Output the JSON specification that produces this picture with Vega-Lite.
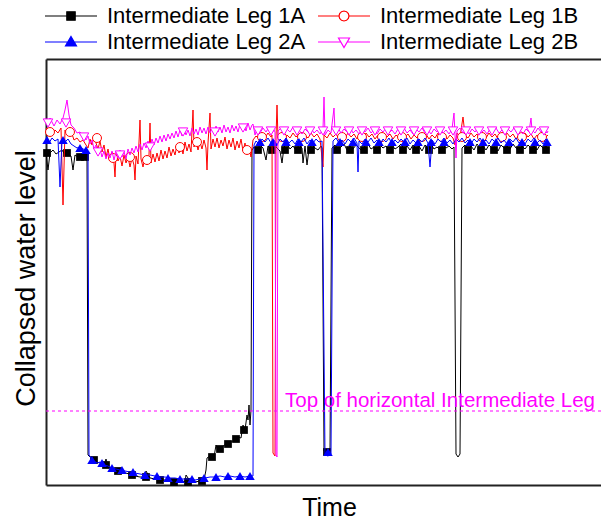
{
"$schema": "https://vega.github.io/schema/vega-lite/v6.json",
"width": 555,
"height": 426,
"autosize": "none",
"padding": {"left": 46, "top": 59, "right": 0, "bottom": 36},
"background": "white",
"config": {
  "view": {"stroke": null},
  "font": "Liberation Sans",
  "axis": {"grid": false, "ticks": false, "labels": false, "domainColor": "#222", "domainWidth": 2, "titleFont": "Liberation Sans", "titleFontWeight": "normal", "titleColor": "#000"}
},
"datasets": {
"lines": [
{"s":"1A","t":0,"v":332},{"s":"1A","t":2,"v":315},{"s":"1A","t":4,"v":332},{"s":"1A","t":7,"v":335},{"s":"1A","t":10,"v":331},{"s":"1A","t":13,"v":333},{"s":"1A","t":16,"v":335},{"s":"1A","t":19,"v":330},{"s":"1A","t":22,"v":332},{"s":"1A","t":25,"v":329},{"s":"1A","t":27,"v":315},{"s":"1A","t":29,"v":330},{"s":"1A","t":32,"v":328},{"s":"1A","t":35,"v":329},{"s":"1A","t":38,"v":327},{"s":"1A","t":40,"v":326},{"s":"1A","t":41,"v":324},
{"s":"1A","t":42,"v":30},{"s":"1A","t":44,"v":28},{"s":"1A","t":47,"v":25},{"s":"1A","t":50,"v":23},{"s":"1A","t":54,"v":22},{"s":"1A","t":58,"v":19},{"s":"1A","t":60,"v":26},{"s":"1A","t":62,"v":18},{"s":"1A","t":66,"v":17},{"s":"1A","t":70,"v":15},{"s":"1A","t":74,"v":13},{"s":"1A","t":79,"v":12},{"s":"1A","t":84,"v":11},{"s":"1A","t":89,"v":9},{"s":"1A","t":94,"v":8},{"s":"1A","t":99,"v":8},{"s":"1A","t":100,"v":14},{"s":"1A","t":104,"v":7},{"s":"1A","t":109,"v":6},{"s":"1A","t":114,"v":5},{"s":"1A","t":119,"v":5},{"s":"1A","t":124,"v":4},{"s":"1A","t":129,"v":3},{"s":"1A","t":134,"v":4},{"s":"1A","t":139,"v":3},{"s":"1A","t":140,"v":10},{"s":"1A","t":144,"v":4},{"s":"1A","t":149,"v":3},{"s":"1A","t":154,"v":4},{"s":"1A","t":158,"v":5},{"s":"1A","t":160,"v":15},{"s":"1A","t":161,"v":27},{"s":"1A","t":164,"v":29},{"s":"1A","t":168,"v":28},{"s":"1A","t":170,"v":40},{"s":"1A","t":172,"v":35},{"s":"1A","t":176,"v":38},{"s":"1A","t":180,"v":41},{"s":"1A","t":184,"v":42},{"s":"1A","t":188,"v":45},{"s":"1A","t":192,"v":48},{"s":"1A","t":195,"v":47},{"s":"1A","t":197,"v":60},{"s":"1A","t":199,"v":55},{"s":"1A","t":201,"v":70},{"s":"1A","t":202,"v":65},{"s":"1A","t":203,"v":80},{"s":"1A","t":204,"v":60},{"s":"1A","t":205,"v":75},
{"s":"1A","t":206,"v":335},{"s":"1A","t":208,"v":338},{"s":"1A","t":211,"v":335},{"s":"1A","t":214,"v":340},{"s":"1A","t":217,"v":337},{"s":"1A","t":220,"v":325},{"s":"1A","t":222,"v":339},{"s":"1A","t":225,"v":336},{"s":"1A","t":228,"v":341},{"s":"1A","t":231,"v":337},{"s":"1A","t":234,"v":334},{"s":"1A","t":236,"v":322},{"s":"1A","t":238,"v":338},{"s":"1A","t":241,"v":341},{"s":"1A","t":244,"v":336},{"s":"1A","t":247,"v":339},{"s":"1A","t":250,"v":335},{"s":"1A","t":253,"v":340},{"s":"1A","t":256,"v":337},{"s":"1A","t":257,"v":322},{"s":"1A","t":259,"v":339},{"s":"1A","t":261,"v":320},{"s":"1A","t":263,"v":336},{"s":"1A","t":266,"v":340},{"s":"1A","t":269,"v":337},{"s":"1A","t":272,"v":335},{"s":"1A","t":275,"v":339},{"s":"1A","t":276,"v":337},
{"s":"1A","t":278,"v":34},{"s":"1A","t":281,"v":33},{"s":"1A","t":284,"v":34},{"s":"1A","t":286,"v":337},{"s":"1A","t":289,"v":340},{"s":"1A","t":292,"v":336},{"s":"1A","t":295,"v":338},{"s":"1A","t":298,"v":341},{"s":"1A","t":301,"v":335},{"s":"1A","t":304,"v":339},{"s":"1A","t":307,"v":336},{"s":"1A","t":310,"v":340},{"s":"1A","t":313,"v":337},{"s":"1A","t":316,"v":334},{"s":"1A","t":319,"v":339},{"s":"1A","t":322,"v":341},{"s":"1A","t":325,"v":336},{"s":"1A","t":328,"v":338},{"s":"1A","t":331,"v":335},{"s":"1A","t":334,"v":340},{"s":"1A","t":337,"v":337},{"s":"1A","t":340,"v":339},{"s":"1A","t":343,"v":335},{"s":"1A","t":346,"v":340},{"s":"1A","t":349,"v":336},{"s":"1A","t":352,"v":338},{"s":"1A","t":355,"v":341},{"s":"1A","t":358,"v":336},{"s":"1A","t":361,"v":339},{"s":"1A","t":364,"v":335},{"s":"1A","t":367,"v":340},{"s":"1A","t":370,"v":337},{"s":"1A","t":373,"v":339},{"s":"1A","t":376,"v":334},{"s":"1A","t":379,"v":340},{"s":"1A","t":382,"v":337},{"s":"1A","t":385,"v":341},{"s":"1A","t":388,"v":336},{"s":"1A","t":391,"v":338},{"s":"1A","t":394,"v":335},{"s":"1A","t":397,"v":340},{"s":"1A","t":400,"v":337},{"s":"1A","t":403,"v":339},{"s":"1A","t":406,"v":336},{"s":"1A","t":408,"v":338},
{"s":"1A","t":410,"v":31},{"s":"1A","t":412,"v":28},{"s":"1A","t":414,"v":31},{"s":"1A","t":416,"v":337},{"s":"1A","t":419,"v":340},{"s":"1A","t":422,"v":336},{"s":"1A","t":425,"v":339},{"s":"1A","t":428,"v":335},{"s":"1A","t":431,"v":341},{"s":"1A","t":434,"v":337},{"s":"1A","t":437,"v":339},{"s":"1A","t":440,"v":335},{"s":"1A","t":443,"v":340},{"s":"1A","t":446,"v":337},{"s":"1A","t":449,"v":338},{"s":"1A","t":452,"v":334},{"s":"1A","t":455,"v":340},{"s":"1A","t":458,"v":337},{"s":"1A","t":461,"v":339},{"s":"1A","t":464,"v":336},{"s":"1A","t":467,"v":341},{"s":"1A","t":470,"v":337},{"s":"1A","t":473,"v":335},{"s":"1A","t":476,"v":339},{"s":"1A","t":479,"v":336},{"s":"1A","t":482,"v":340},{"s":"1A","t":485,"v":337},{"s":"1A","t":488,"v":339},{"s":"1A","t":491,"v":335},{"s":"1A","t":494,"v":340},{"s":"1A","t":497,"v":337},{"s":"1A","t":500,"v":339},{"s":"1A","t":502,"v":336},

{"s":"1B","t":0,"v":357},{"s":"1B","t":3,"v":353},{"s":"1B","t":6,"v":350},{"s":"1B","t":9,"v":355},{"s":"1B","t":12,"v":352},{"s":"1B","t":15,"v":357},{"s":"1B","t":17,"v":280},{"s":"1B","t":19,"v":355},{"s":"1B","t":22,"v":351},{"s":"1B","t":25,"v":354},{"s":"1B","t":28,"v":345},{"s":"1B","t":31,"v":347},{"s":"1B","t":34,"v":343},{"s":"1B","t":37,"v":345},{"s":"1B","t":40,"v":340},
{"s":"1B","t":42,"v":337},{"s":"1B","t":44,"v":346},{"s":"1B","t":46,"v":340},{"s":"1B","t":48,"v":349},{"s":"1B","t":50,"v":342},{"s":"1B","t":52,"v":336},{"s":"1B","t":54,"v":344},{"s":"1B","t":56,"v":333},{"s":"1B","t":58,"v":340},{"s":"1B","t":60,"v":328},{"s":"1B","t":62,"v":336},{"s":"1B","t":64,"v":325},{"s":"1B","t":66,"v":333},{"s":"1B","t":68,"v":322},{"s":"1B","t":69,"v":308},{"s":"1B","t":70,"v":331},{"s":"1B","t":72,"v":324},{"s":"1B","t":74,"v":329},{"s":"1B","t":76,"v":319},{"s":"1B","t":78,"v":330},{"s":"1B","t":80,"v":322},{"s":"1B","t":82,"v":328},{"s":"1B","t":84,"v":318},{"s":"1B","t":86,"v":327},{"s":"1B","t":88,"v":320},{"s":"1B","t":89,"v":305},{"s":"1B","t":90,"v":329},{"s":"1B","t":92,"v":321},{"s":"1B","t":94,"v":365},{"s":"1B","t":95,"v":326},{"s":"1B","t":97,"v":318},{"s":"1B","t":99,"v":328},{"s":"1B","t":101,"v":320},{"s":"1B","t":103,"v":330},{"s":"1B","t":104,"v":362},{"s":"1B","t":105,"v":322},{"s":"1B","t":107,"v":331},{"s":"1B","t":109,"v":323},{"s":"1B","t":111,"v":332},{"s":"1B","t":113,"v":324},{"s":"1B","t":115,"v":335},{"s":"1B","t":117,"v":326},{"s":"1B","t":119,"v":334},{"s":"1B","t":121,"v":327},{"s":"1B","t":123,"v":338},{"s":"1B","t":125,"v":329},{"s":"1B","t":127,"v":336},{"s":"1B","t":129,"v":330},{"s":"1B","t":131,"v":340},{"s":"1B","t":133,"v":332},{"s":"1B","t":135,"v":339},{"s":"1B","t":137,"v":331},{"s":"1B","t":139,"v":343},{"s":"1B","t":141,"v":334},{"s":"1B","t":143,"v":341},{"s":"1B","t":145,"v":333},{"s":"1B","t":147,"v":375},{"s":"1B","t":148,"v":338},{"s":"1B","t":150,"v":344},{"s":"1B","t":152,"v":335},{"s":"1B","t":154,"v":343},{"s":"1B","t":156,"v":336},{"s":"1B","t":158,"v":345},{"s":"1B","t":160,"v":337},{"s":"1B","t":161,"v":315},{"s":"1B","t":162,"v":342},{"s":"1B","t":164,"v":372},{"s":"1B","t":165,"v":336},{"s":"1B","t":167,"v":346},{"s":"1B","t":169,"v":338},{"s":"1B","t":171,"v":347},{"s":"1B","t":173,"v":337},{"s":"1B","t":175,"v":345},{"s":"1B","t":177,"v":339},{"s":"1B","t":179,"v":348},{"s":"1B","t":181,"v":336},{"s":"1B","t":183,"v":345},{"s":"1B","t":185,"v":338},{"s":"1B","t":187,"v":347},{"s":"1B","t":189,"v":335},{"s":"1B","t":191,"v":344},{"s":"1B","t":193,"v":337},{"s":"1B","t":195,"v":346},{"s":"1B","t":197,"v":334},{"s":"1B","t":199,"v":342},{"s":"1B","t":201,"v":332},{"s":"1B","t":203,"v":338},{"s":"1B","t":205,"v":328},{"s":"1B","t":207,"v":345},
{"s":"1B","t":210,"v":349},{"s":"1B","t":213,"v":346},{"s":"1B","t":216,"v":351},{"s":"1B","t":219,"v":347},{"s":"1B","t":222,"v":352},{"s":"1B","t":225,"v":348},{"s":"1B","t":226,"v":350},{"s":"1B","t":227,"v":32},{"s":"1B","t":229,"v":29},{"s":"1B","t":230,"v":348},{"s":"1B","t":231,"v":380},{"s":"1B","t":232,"v":347},{"s":"1B","t":235,"v":351},{"s":"1B","t":238,"v":346},{"s":"1B","t":241,"v":350},{"s":"1B","t":244,"v":347},{"s":"1B","t":247,"v":352},{"s":"1B","t":250,"v":348},{"s":"1B","t":253,"v":351},{"s":"1B","t":256,"v":346},{"s":"1B","t":259,"v":350},{"s":"1B","t":262,"v":347},{"s":"1B","t":265,"v":352},{"s":"1B","t":268,"v":348},{"s":"1B","t":271,"v":351},{"s":"1B","t":274,"v":346},{"s":"1B","t":277,"v":318},{"s":"1B","t":278,"v":350},{"s":"1B","t":281,"v":347},{"s":"1B","t":284,"v":352},{"s":"1B","t":287,"v":348},{"s":"1B","t":290,"v":351},{"s":"1B","t":293,"v":346},{"s":"1B","t":296,"v":350},{"s":"1B","t":299,"v":347},{"s":"1B","t":302,"v":352},{"s":"1B","t":305,"v":348},{"s":"1B","t":308,"v":351},{"s":"1B","t":311,"v":346},{"s":"1B","t":314,"v":350},{"s":"1B","t":317,"v":347},{"s":"1B","t":320,"v":352},{"s":"1B","t":323,"v":348},{"s":"1B","t":326,"v":351},{"s":"1B","t":329,"v":346},{"s":"1B","t":332,"v":350},{"s":"1B","t":335,"v":347},{"s":"1B","t":338,"v":352},{"s":"1B","t":341,"v":348},{"s":"1B","t":344,"v":351},{"s":"1B","t":347,"v":346},{"s":"1B","t":350,"v":350},{"s":"1B","t":353,"v":347},{"s":"1B","t":356,"v":352},{"s":"1B","t":359,"v":348},{"s":"1B","t":362,"v":351},{"s":"1B","t":365,"v":346},{"s":"1B","t":368,"v":350},{"s":"1B","t":371,"v":347},{"s":"1B","t":374,"v":352},{"s":"1B","t":377,"v":348},{"s":"1B","t":380,"v":351},{"s":"1B","t":383,"v":346},{"s":"1B","t":386,"v":350},{"s":"1B","t":389,"v":347},{"s":"1B","t":392,"v":352},{"s":"1B","t":395,"v":348},{"s":"1B","t":398,"v":351},{"s":"1B","t":401,"v":346},{"s":"1B","t":404,"v":350},{"s":"1B","t":407,"v":347},{"s":"1B","t":409,"v":340},{"s":"1B","t":411,"v":352},{"s":"1B","t":414,"v":348},{"s":"1B","t":417,"v":368},{"s":"1B","t":419,"v":350},{"s":"1B","t":422,"v":347},{"s":"1B","t":425,"v":352},{"s":"1B","t":428,"v":348},{"s":"1B","t":431,"v":351},{"s":"1B","t":434,"v":346},{"s":"1B","t":437,"v":350},{"s":"1B","t":440,"v":347},{"s":"1B","t":443,"v":352},{"s":"1B","t":446,"v":348},{"s":"1B","t":449,"v":351},{"s":"1B","t":452,"v":346},{"s":"1B","t":455,"v":350},{"s":"1B","t":458,"v":347},{"s":"1B","t":461,"v":352},{"s":"1B","t":464,"v":348},{"s":"1B","t":467,"v":351},{"s":"1B","t":470,"v":346},{"s":"1B","t":473,"v":350},{"s":"1B","t":476,"v":347},{"s":"1B","t":479,"v":352},{"s":"1B","t":482,"v":348},{"s":"1B","t":485,"v":351},{"s":"1B","t":488,"v":346},{"s":"1B","t":491,"v":350},{"s":"1B","t":494,"v":347},{"s":"1B","t":497,"v":352},{"s":"1B","t":500,"v":348},{"s":"1B","t":502,"v":350},

{"s":"2A","t":0,"v":345},{"s":"2A","t":3,"v":342},{"s":"2A","t":6,"v":347},{"s":"2A","t":9,"v":344},{"s":"2A","t":12,"v":346},{"s":"2A","t":14,"v":298},{"s":"2A","t":16,"v":345},{"s":"2A","t":19,"v":343},{"s":"2A","t":22,"v":346},{"s":"2A","t":25,"v":341},{"s":"2A","t":28,"v":339},{"s":"2A","t":31,"v":337},{"s":"2A","t":34,"v":338},{"s":"2A","t":37,"v":336},{"s":"2A","t":40,"v":335},{"s":"2A","t":42,"v":333},
{"s":"2A","t":43,"v":30},{"s":"2A","t":45,"v":27},{"s":"2A","t":48,"v":24},{"s":"2A","t":51,"v":22},{"s":"2A","t":54,"v":23},{"s":"2A","t":58,"v":20},{"s":"2A","t":62,"v":19},{"s":"2A","t":66,"v":17},{"s":"2A","t":70,"v":16},{"s":"2A","t":74,"v":15},{"s":"2A","t":79,"v":14},{"s":"2A","t":84,"v":13},{"s":"2A","t":89,"v":12},{"s":"2A","t":94,"v":11},{"s":"2A","t":99,"v":10},{"s":"2A","t":104,"v":10},{"s":"2A","t":109,"v":9},{"s":"2A","t":114,"v":8},{"s":"2A","t":119,"v":8},{"s":"2A","t":124,"v":7},{"s":"2A","t":129,"v":7},{"s":"2A","t":134,"v":6},{"s":"2A","t":139,"v":6},{"s":"2A","t":144,"v":6},{"s":"2A","t":149,"v":5},{"s":"2A","t":154,"v":6},{"s":"2A","t":159,"v":7},{"s":"2A","t":164,"v":8},{"s":"2A","t":169,"v":8},{"s":"2A","t":174,"v":9},{"s":"2A","t":179,"v":8},{"s":"2A","t":184,"v":9},{"s":"2A","t":189,"v":8},{"s":"2A","t":194,"v":9},{"s":"2A","t":199,"v":8},{"s":"2A","t":204,"v":9},{"s":"2A","t":207,"v":9},
{"s":"2A","t":208,"v":340},{"s":"2A","t":210,"v":344},{"s":"2A","t":213,"v":341},{"s":"2A","t":216,"v":346},{"s":"2A","t":219,"v":343},{"s":"2A","t":222,"v":347},{"s":"2A","t":225,"v":342},{"s":"2A","t":228,"v":345},{"s":"2A","t":231,"v":340},{"s":"2A","t":234,"v":346},{"s":"2A","t":237,"v":343},{"s":"2A","t":240,"v":347},{"s":"2A","t":243,"v":342},{"s":"2A","t":246,"v":345},{"s":"2A","t":249,"v":341},{"s":"2A","t":252,"v":346},{"s":"2A","t":255,"v":343},{"s":"2A","t":258,"v":347},{"s":"2A","t":261,"v":341},{"s":"2A","t":264,"v":345},{"s":"2A","t":267,"v":342},{"s":"2A","t":270,"v":346},{"s":"2A","t":273,"v":343},{"s":"2A","t":276,"v":344},
{"s":"2A","t":279,"v":30},{"s":"2A","t":282,"v":29},{"s":"2A","t":285,"v":31},{"s":"2A","t":287,"v":344},{"s":"2A","t":290,"v":347},{"s":"2A","t":293,"v":342},{"s":"2A","t":296,"v":345},{"s":"2A","t":299,"v":341},{"s":"2A","t":302,"v":346},{"s":"2A","t":305,"v":343},{"s":"2A","t":308,"v":347},{"s":"2A","t":311,"v":342},{"s":"2A","t":312,"v":313},{"s":"2A","t":313,"v":344},{"s":"2A","t":316,"v":341},{"s":"2A","t":319,"v":346},{"s":"2A","t":322,"v":343},{"s":"2A","t":325,"v":347},{"s":"2A","t":328,"v":342},{"s":"2A","t":331,"v":345},{"s":"2A","t":334,"v":340},{"s":"2A","t":337,"v":346},{"s":"2A","t":340,"v":343},{"s":"2A","t":343,"v":347},{"s":"2A","t":346,"v":341},{"s":"2A","t":349,"v":345},{"s":"2A","t":352,"v":342},{"s":"2A","t":355,"v":346},{"s":"2A","t":358,"v":343},{"s":"2A","t":361,"v":347},{"s":"2A","t":364,"v":341},{"s":"2A","t":367,"v":345},{"s":"2A","t":370,"v":342},{"s":"2A","t":373,"v":346},{"s":"2A","t":376,"v":343},{"s":"2A","t":379,"v":347},{"s":"2A","t":382,"v":342},{"s":"2A","t":384,"v":318},{"s":"2A","t":386,"v":345},{"s":"2A","t":389,"v":341},{"s":"2A","t":392,"v":346},{"s":"2A","t":395,"v":343},{"s":"2A","t":398,"v":347},{"s":"2A","t":401,"v":342},{"s":"2A","t":404,"v":345},{"s":"2A","t":407,"v":341},{"s":"2A","t":410,"v":346},{"s":"2A","t":413,"v":343},{"s":"2A","t":416,"v":347},{"s":"2A","t":419,"v":342},{"s":"2A","t":422,"v":345},{"s":"2A","t":425,"v":341},{"s":"2A","t":428,"v":346},{"s":"2A","t":431,"v":343},{"s":"2A","t":434,"v":347},{"s":"2A","t":437,"v":342},{"s":"2A","t":440,"v":345},{"s":"2A","t":443,"v":341},{"s":"2A","t":446,"v":346},{"s":"2A","t":449,"v":343},{"s":"2A","t":452,"v":347},{"s":"2A","t":455,"v":342},{"s":"2A","t":458,"v":345},{"s":"2A","t":461,"v":341},{"s":"2A","t":464,"v":346},{"s":"2A","t":467,"v":343},{"s":"2A","t":470,"v":347},{"s":"2A","t":473,"v":342},{"s":"2A","t":476,"v":345},{"s":"2A","t":479,"v":341},{"s":"2A","t":482,"v":346},{"s":"2A","t":485,"v":343},{"s":"2A","t":488,"v":347},{"s":"2A","t":491,"v":342},{"s":"2A","t":494,"v":345},{"s":"2A","t":497,"v":341},{"s":"2A","t":500,"v":346},{"s":"2A","t":502,"v":343},

{"s":"2B","t":0,"v":365},{"s":"2B","t":2,"v":360},{"s":"2B","t":4,"v":367},{"s":"2B","t":6,"v":363},{"s":"2B","t":8,"v":359},{"s":"2B","t":11,"v":365},{"s":"2B","t":14,"v":361},{"s":"2B","t":17,"v":367},{"s":"2B","t":19,"v":375},{"s":"2B","t":21,"v":385},{"s":"2B","t":23,"v":370},{"s":"2B","t":25,"v":360},{"s":"2B","t":28,"v":357},{"s":"2B","t":31,"v":352},{"s":"2B","t":34,"v":353},{"s":"2B","t":37,"v":349},
{"s":"2B","t":40,"v":345},{"s":"2B","t":42,"v":349},{"s":"2B","t":44,"v":341},{"s":"2B","t":46,"v":345},{"s":"2B","t":48,"v":336},{"s":"2B","t":50,"v":340},{"s":"2B","t":52,"v":331},{"s":"2B","t":54,"v":336},{"s":"2B","t":56,"v":328},{"s":"2B","t":58,"v":334},{"s":"2B","t":60,"v":326},{"s":"2B","t":62,"v":332},{"s":"2B","t":64,"v":327},{"s":"2B","t":66,"v":334},{"s":"2B","t":68,"v":325},{"s":"2B","t":70,"v":333},{"s":"2B","t":72,"v":327},{"s":"2B","t":74,"v":335},{"s":"2B","t":76,"v":328},{"s":"2B","t":78,"v":333},{"s":"2B","t":80,"v":326},{"s":"2B","t":82,"v":336},{"s":"2B","t":84,"v":330},{"s":"2B","t":86,"v":337},{"s":"2B","t":88,"v":332},{"s":"2B","t":90,"v":339},{"s":"2B","t":92,"v":333},{"s":"2B","t":94,"v":341},{"s":"2B","t":96,"v":335},{"s":"2B","t":98,"v":342},{"s":"2B","t":100,"v":337},{"s":"2B","t":102,"v":344},{"s":"2B","t":104,"v":338},{"s":"2B","t":106,"v":346},{"s":"2B","t":108,"v":340},{"s":"2B","t":110,"v":347},{"s":"2B","t":112,"v":342},{"s":"2B","t":114,"v":349},{"s":"2B","t":116,"v":343},{"s":"2B","t":118,"v":350},{"s":"2B","t":120,"v":344},{"s":"2B","t":122,"v":351},{"s":"2B","t":124,"v":346},{"s":"2B","t":126,"v":352},{"s":"2B","t":128,"v":347},{"s":"2B","t":130,"v":354},{"s":"2B","t":132,"v":348},{"s":"2B","t":134,"v":355},{"s":"2B","t":136,"v":349},{"s":"2B","t":138,"v":356},{"s":"2B","t":140,"v":350},{"s":"2B","t":142,"v":355},{"s":"2B","t":144,"v":349},{"s":"2B","t":146,"v":357},{"s":"2B","t":148,"v":351},{"s":"2B","t":150,"v":356},{"s":"2B","t":152,"v":350},{"s":"2B","t":154,"v":358},{"s":"2B","t":156,"v":352},{"s":"2B","t":158,"v":357},{"s":"2B","t":160,"v":351},{"s":"2B","t":162,"v":358},{"s":"2B","t":164,"v":352},{"s":"2B","t":166,"v":357},{"s":"2B","t":168,"v":351},{"s":"2B","t":170,"v":359},{"s":"2B","t":172,"v":353},{"s":"2B","t":174,"v":358},{"s":"2B","t":176,"v":352},{"s":"2B","t":178,"v":360},{"s":"2B","t":180,"v":353},{"s":"2B","t":182,"v":358},{"s":"2B","t":184,"v":352},{"s":"2B","t":186,"v":360},{"s":"2B","t":188,"v":354},{"s":"2B","t":190,"v":359},{"s":"2B","t":192,"v":353},{"s":"2B","t":194,"v":361},{"s":"2B","t":196,"v":355},{"s":"2B","t":198,"v":360},{"s":"2B","t":200,"v":354},{"s":"2B","t":202,"v":362},{"s":"2B","t":204,"v":355},{"s":"2B","t":206,"v":360},{"s":"2B","t":207,"v":361},
{"s":"2B","t":209,"v":350},{"s":"2B","t":211,"v":356},{"s":"2B","t":214,"v":352},{"s":"2B","t":217,"v":357},{"s":"2B","t":220,"v":353},{"s":"2B","t":223,"v":358},{"s":"2B","t":226,"v":352},{"s":"2B","t":228,"v":355},{"s":"2B","t":229,"v":353},{"s":"2B","t":230,"v":30},{"s":"2B","t":231,"v":28},{"s":"2B","t":232,"v":354},{"s":"2B","t":235,"v":357},{"s":"2B","t":238,"v":352},{"s":"2B","t":241,"v":356},{"s":"2B","t":244,"v":353},{"s":"2B","t":247,"v":358},{"s":"2B","t":250,"v":352},{"s":"2B","t":253,"v":355},{"s":"2B","t":256,"v":351},{"s":"2B","t":259,"v":356},{"s":"2B","t":262,"v":353},{"s":"2B","t":265,"v":357},{"s":"2B","t":268,"v":352},{"s":"2B","t":271,"v":355},{"s":"2B","t":274,"v":351},{"s":"2B","t":277,"v":356},{"s":"2B","t":278,"v":388},{"s":"2B","t":279,"v":350},{"s":"2B","t":282,"v":355},{"s":"2B","t":285,"v":352},{"s":"2B","t":288,"v":377},{"s":"2B","t":289,"v":353},{"s":"2B","t":292,"v":357},{"s":"2B","t":295,"v":352},{"s":"2B","t":298,"v":356},{"s":"2B","t":301,"v":353},{"s":"2B","t":304,"v":358},{"s":"2B","t":307,"v":352},{"s":"2B","t":310,"v":355},{"s":"2B","t":313,"v":351},{"s":"2B","t":316,"v":356},{"s":"2B","t":319,"v":353},{"s":"2B","t":322,"v":357},{"s":"2B","t":325,"v":352},{"s":"2B","t":328,"v":355},{"s":"2B","t":331,"v":351},{"s":"2B","t":334,"v":356},{"s":"2B","t":337,"v":353},{"s":"2B","t":340,"v":357},{"s":"2B","t":343,"v":352},{"s":"2B","t":346,"v":355},{"s":"2B","t":349,"v":351},{"s":"2B","t":352,"v":356},{"s":"2B","t":355,"v":353},{"s":"2B","t":358,"v":357},{"s":"2B","t":361,"v":352},{"s":"2B","t":364,"v":355},{"s":"2B","t":367,"v":351},{"s":"2B","t":370,"v":356},{"s":"2B","t":373,"v":353},{"s":"2B","t":376,"v":357},{"s":"2B","t":379,"v":352},{"s":"2B","t":382,"v":355},{"s":"2B","t":385,"v":351},{"s":"2B","t":388,"v":356},{"s":"2B","t":391,"v":353},{"s":"2B","t":394,"v":357},{"s":"2B","t":397,"v":352},{"s":"2B","t":400,"v":355},{"s":"2B","t":403,"v":351},{"s":"2B","t":406,"v":356},{"s":"2B","t":408,"v":372},{"s":"2B","t":409,"v":350},{"s":"2B","t":410,"v":327},{"s":"2B","t":411,"v":354},{"s":"2B","t":414,"v":357},{"s":"2B","t":417,"v":352},{"s":"2B","t":420,"v":355},{"s":"2B","t":423,"v":351},{"s":"2B","t":426,"v":356},{"s":"2B","t":429,"v":353},{"s":"2B","t":432,"v":357},{"s":"2B","t":435,"v":352},{"s":"2B","t":438,"v":355},{"s":"2B","t":441,"v":351},{"s":"2B","t":444,"v":356},{"s":"2B","t":447,"v":353},{"s":"2B","t":450,"v":357},{"s":"2B","t":453,"v":352},{"s":"2B","t":456,"v":355},{"s":"2B","t":459,"v":351},{"s":"2B","t":462,"v":356},{"s":"2B","t":465,"v":353},{"s":"2B","t":468,"v":357},{"s":"2B","t":471,"v":352},{"s":"2B","t":474,"v":355},{"s":"2B","t":477,"v":351},{"s":"2B","t":480,"v":356},{"s":"2B","t":483,"v":353},{"s":"2B","t":485,"v":367},{"s":"2B","t":486,"v":355},{"s":"2B","t":489,"v":352},{"s":"2B","t":492,"v":357},{"s":"2B","t":495,"v":353},{"s":"2B","t":498,"v":356},{"s":"2B","t":501,"v":352},{"s":"2B","t":502,"v":354}
],
"marks": [
{"s":"1A","t":1,"v":332},{"s":"1A","t":21,"v":332},{"s":"1A","t":34,"v":328},{"s":"1A","t":39,"v":328},{"s":"1A","t":48,"v":25},{"s":"1A","t":60,"v":20},{"s":"1A","t":72,"v":14},{"s":"1A","t":86,"v":10},{"s":"1A","t":100,"v":8},{"s":"1A","t":114,"v":5},{"s":"1A","t":128,"v":3},{"s":"1A","t":142,"v":3},{"s":"1A","t":156,"v":4},{"s":"1A","t":166,"v":28},{"s":"1A","t":174,"v":36},{"s":"1A","t":182,"v":41},{"s":"1A","t":190,"v":46},{"s":"1A","t":198,"v":55},{"s":"1A","t":212,"v":335},{"s":"1A","t":226,"v":335},{"s":"1A","t":239,"v":335},{"s":"1A","t":252,"v":335},{"s":"1A","t":265,"v":335},{"s":"1A","t":281,"v":33},{"s":"1A","t":291,"v":335},{"s":"1A","t":304,"v":335},{"s":"1A","t":318,"v":335},{"s":"1A","t":331,"v":335},{"s":"1A","t":344,"v":335},{"s":"1A","t":357,"v":335},{"s":"1A","t":370,"v":335},{"s":"1A","t":383,"v":335},{"s":"1A","t":396,"v":335},{"s":"1A","t":422,"v":335},{"s":"1A","t":435,"v":335},{"s":"1A","t":448,"v":335},{"s":"1A","t":461,"v":335},{"s":"1A","t":474,"v":335},{"s":"1A","t":487,"v":335},{"s":"1A","t":500,"v":335},
{"s":"1B","t":4,"v":353},{"s":"1B","t":24,"v":353},{"s":"1B","t":51,"v":347},{"s":"1B","t":67,"v":327},{"s":"1B","t":84,"v":328},{"s":"1B","t":101,"v":325},{"s":"1B","t":134,"v":338},{"s":"1B","t":151,"v":343},{"s":"1B","t":201,"v":335},{"s":"1B","t":216,"v":348},{"s":"1B","t":236,"v":348},{"s":"1B","t":256,"v":348},{"s":"1B","t":296,"v":348},{"s":"1B","t":316,"v":348},{"s":"1B","t":336,"v":348},{"s":"1B","t":356,"v":348},{"s":"1B","t":376,"v":348},{"s":"1B","t":396,"v":348},{"s":"1B","t":416,"v":348},{"s":"1B","t":436,"v":348},{"s":"1B","t":456,"v":348},{"s":"1B","t":476,"v":348},{"s":"1B","t":496,"v":348},
{"s":"2A","t":1,"v":345},{"s":"2A","t":17,"v":345},{"s":"2A","t":34,"v":337},{"s":"2A","t":40,"v":335},{"s":"2A","t":46,"v":25},{"s":"2A","t":56,"v":22},{"s":"2A","t":66,"v":17},{"s":"2A","t":76,"v":15},{"s":"2A","t":87,"v":13},{"s":"2A","t":99,"v":10},{"s":"2A","t":111,"v":9},{"s":"2A","t":122,"v":7},{"s":"2A","t":134,"v":6},{"s":"2A","t":146,"v":6},{"s":"2A","t":158,"v":7},{"s":"2A","t":170,"v":8},{"s":"2A","t":182,"v":9},{"s":"2A","t":194,"v":9},{"s":"2A","t":204,"v":9},{"s":"2A","t":214,"v":343},{"s":"2A","t":227,"v":343},{"s":"2A","t":240,"v":343},{"s":"2A","t":253,"v":343},{"s":"2A","t":266,"v":343},{"s":"2A","t":282,"v":33},{"s":"2A","t":294,"v":343},{"s":"2A","t":307,"v":343},{"s":"2A","t":320,"v":343},{"s":"2A","t":333,"v":343},{"s":"2A","t":346,"v":343},{"s":"2A","t":359,"v":343},{"s":"2A","t":372,"v":343},{"s":"2A","t":385,"v":343},{"s":"2A","t":398,"v":343},{"s":"2A","t":424,"v":343},{"s":"2A","t":437,"v":343},{"s":"2A","t":450,"v":343},{"s":"2A","t":463,"v":343},{"s":"2A","t":476,"v":343},{"s":"2A","t":489,"v":343},{"s":"2A","t":501,"v":343},
{"s":"2B","t":2,"v":362},{"s":"2B","t":20,"v":362},{"s":"2B","t":38,"v":348},{"s":"2B","t":52,"v":333},{"s":"2B","t":74,"v":330},{"s":"2B","t":104,"v":338},{"s":"2B","t":137,"v":353},{"s":"2B","t":169,"v":353},{"s":"2B","t":197,"v":357},{"s":"2B","t":212,"v":354},{"s":"2B","t":225,"v":354},{"s":"2B","t":238,"v":354},{"s":"2B","t":251,"v":354},{"s":"2B","t":264,"v":354},{"s":"2B","t":277,"v":354},{"s":"2B","t":290,"v":354},{"s":"2B","t":303,"v":354},{"s":"2B","t":316,"v":354},{"s":"2B","t":329,"v":354},{"s":"2B","t":342,"v":354},{"s":"2B","t":355,"v":354},{"s":"2B","t":368,"v":354},{"s":"2B","t":381,"v":354},{"s":"2B","t":394,"v":354},{"s":"2B","t":407,"v":354},{"s":"2B","t":420,"v":354},{"s":"2B","t":433,"v":354},{"s":"2B","t":446,"v":354},{"s":"2B","t":459,"v":354},{"s":"2B","t":472,"v":354},{"s":"2B","t":485,"v":354},{"s":"2B","t":498,"v":354}
],
"legs": [
{"name":"Intermediate Leg 1A"},{"name":"Intermediate Leg 1B"},{"name":"Intermediate Leg 2A"},{"name":"Intermediate Leg 2B"}
]
},
"resolve": {"axis": {"x": "independent"}},
"layer": [
{
  "encoding": {
    "x": {"field": "t", "type": "quantitative", "scale": {"domain": [0, 555], "nice": false, "zero": false}, "axis": {"title": "Time", "titleFontSize": 25, "titlePadding": 10, "titleX": 283}},
    "y": {"field": "v", "type": "quantitative", "scale": {"domain": [0, 426], "nice": false, "zero": false}, "axis": {"title": "Collapsed water level", "titleFontSize": 27, "titlePadding": 6, "titleY": 219}}
  },
  "layer": [
    {"data": {"name": "lines"}, "transform": [{"filter": "datum.s === '1A'"}], "mark": {"type": "line", "color": "#000000", "strokeWidth": 1}},
    {"data": {"name": "marks"}, "transform": [{"filter": "datum.s === '1A'"}], "mark": {"type": "point", "shape": "square", "filled": true, "color": "#000000", "size": 60, "opacity": 1}},
    {"data": {"name": "lines"}, "transform": [{"filter": "datum.s === '1B'"}], "mark": {"type": "line", "color": "#ff0000", "strokeWidth": 1}},
    {"data": {"name": "marks"}, "transform": [{"filter": "datum.s === '1B'"}], "mark": {"type": "point", "shape": "circle", "filled": true, "fill": "#ffffff", "stroke": "#ff0000", "strokeWidth": 1, "size": 80, "opacity": 1}},
    {"data": {"name": "lines"}, "transform": [{"filter": "datum.s === '2A'"}], "mark": {"type": "line", "color": "#0000ff", "strokeWidth": 1}},
    {"data": {"name": "marks"}, "transform": [{"filter": "datum.s === '2A'"}], "mark": {"type": "point", "shape": "triangle-up", "filled": true, "color": "#0000ff", "size": 90, "opacity": 1}},
    {"data": {"name": "lines"}, "transform": [{"filter": "datum.s === '2B'"}], "mark": {"type": "line", "color": "#ff00ff", "strokeWidth": 1}},
    {"data": {"name": "marks"}, "transform": [{"filter": "datum.s === '2B'"}], "mark": {"type": "point", "shape": "triangle-down", "filled": true, "fill": "#ffffff", "stroke": "#ff00ff", "strokeWidth": 1, "size": 90, "opacity": 1}}
  ]
},
{
  "data": {"name": "legs"},
  "mark": {"type": "point", "filled": true, "opacity": 0},
  "encoding": {
    "shape": {"field": "name", "type": "nominal",
      "scale": {"domain": ["Intermediate Leg 1A", "Intermediate Leg 1B", "Intermediate Leg 2A", "Intermediate Leg 2B"],
        "range": ["M-2.6,0H2.6M-0.42,-0.42H0.42V0.42H-0.42Z",
                  "M-2.6,0H-0.5M0.5,0H2.6M0.5,0L0.433,0.25L0.25,0.433L0,0.5L-0.25,0.433L-0.433,0.25L-0.5,0L-0.433,-0.25L-0.25,-0.433L0,-0.5L0.25,-0.433L0.433,-0.25Z",
                  "M-2.6,0H2.6M0,-0.55L0.55,0.4L-0.55,0.4Z",
                  "M-2.6,0H-0.32M0.32,0H2.6M-0.55,-0.4L0.55,-0.4L0,0.55Z"]},
      "legend": {"title": null, "orient": "top", "columns": 2, "direction": "horizontal", "symbolSize": 400, "symbolStrokeWidth": 1.2, "symbolOpacity": 1, "symbolOffset": 14, "labelOffset": 25, "labelFontSize": 22, "labelFont": "Liberation Sans", "labelColor": "#000000", "labelLimit": 400, "columnPadding": 9, "rowPadding": 4, "offset": 6, "padding": 0}},
    "fill": {"field": "name", "type": "nominal",
      "scale": {"domain": ["Intermediate Leg 1A", "Intermediate Leg 1B", "Intermediate Leg 2A", "Intermediate Leg 2B"], "range": ["#000000", "#ffffff", "#0000ff", "#ffffff"]},
      "legend": {"title": null, "orient": "top", "columns": 2, "direction": "horizontal", "symbolSize": 400, "symbolStrokeWidth": 1.2, "symbolOpacity": 1, "symbolOffset": 14, "labelOffset": 25, "labelFontSize": 22, "labelFont": "Liberation Sans", "labelColor": "#000000", "labelLimit": 400, "columnPadding": 9, "rowPadding": 4, "offset": 6, "padding": 0}},
    "stroke": {"field": "name", "type": "nominal",
      "scale": {"domain": ["Intermediate Leg 1A", "Intermediate Leg 1B", "Intermediate Leg 2A", "Intermediate Leg 2B"], "range": ["#000000", "#ff0000", "#0000ff", "#ff00ff"]},
      "legend": {"title": null, "orient": "top", "columns": 2, "direction": "horizontal", "symbolSize": 400, "symbolStrokeWidth": 1.2, "symbolOpacity": 1, "symbolOffset": 14, "labelOffset": 25, "labelFontSize": 22, "labelFont": "Liberation Sans", "labelColor": "#000000", "labelLimit": 400, "columnPadding": 9, "rowPadding": 4, "offset": 6, "padding": 0}}
  }
},
{
  "data": {"values": [{}]},
  "mark": {"type": "rule", "color": "#ff00ff", "strokeDash": [3, 3], "strokeWidth": 1},
  "encoding": {"y": {"datum": 74, "type": "quantitative"}}
},
{
  "data": {"values": [{}]},
  "mark": {"type": "text", "align": "left", "baseline": "alphabetic", "dy": -4, "fontSize": 20.5, "font": "Liberation Sans", "color": "#ff00ff"},
  "encoding": {
    "x": {"datum": 239, "type": "quantitative", "scale": {"domain": [0, 555], "nice": false, "zero": false}, "axis": {"orient": "top", "title": null}},
    "y": {"datum": 74, "type": "quantitative"},
    "text": {"value": "Top of horizontal Intermediate Leg"}
  }
}
]
}
